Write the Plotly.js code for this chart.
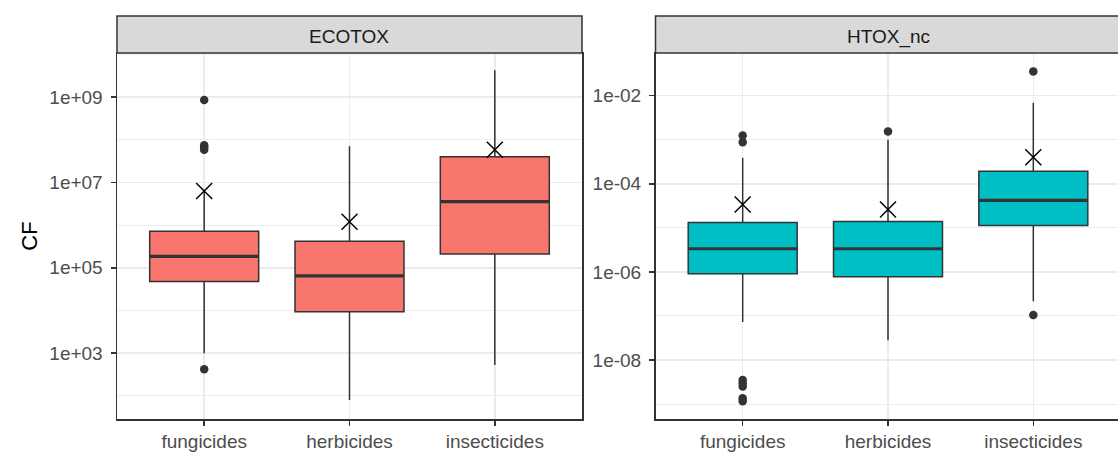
<!DOCTYPE html>
<html>
<head>
<meta charset="utf-8">
<script src="https://cdn.plot.ly/plotly-3.0.1.min.js"></script>
<style>
html, body { margin: 0; padding: 0; overflow: hidden; background: #fff; }
#chart { width: 1122px; height: 452px; }
</style>
</head>
<body>
<div id="chart"></div>
<script>
// ---- data ----
var categories = ['fungicides', 'herbicides', 'insecticides'];

// ECOTOX panel
var ecoQ1     = [4.8e4, 9.3e3, 2.1e5];
var ecoMedian = [1.86e5, 6.5e4, 3.55e6];
var ecoQ3     = [7.2e5, 4.2e5, 4.0e7];
var ecoLower  = [1.0e3, 80, 530];
var ecoUpper  = [6.7e6, 7.0e7, 4.2e9];
var ecoMean   = [6.3e6, 1.2e6, 5.8e7];
var ecoOutCat = ['fungicides', 'fungicides', 'fungicides', 'fungicides', 'fungicides'];
var ecoOutVal = [8.5e8, 7.4e7, 6.6e7, 5.8e7, 4.2e2];

// HTOX_nc panel
var htoxQ1     = [9.1e-7, 7.8e-7, 1.13e-5];
var htoxMedian = [3.35e-6, 3.35e-6, 4.2e-5];
var htoxQ3     = [1.33e-5, 1.4e-5, 1.93e-4];
var htoxLower  = [7.3e-8, 2.8e-8, 2.16e-7];
var htoxUpper  = [3.9e-4, 1.0e-3, 6.9e-3];
var htoxMean   = [3.4e-5, 2.6e-5, 4.0e-4];
var htoxOutCat = ['fungicides', 'fungicides', 'fungicides', 'fungicides', 'fungicides', 'fungicides', 'fungicides',
                  'herbicides', 'insecticides', 'insecticides'];
var htoxOutVal = [1.25e-3, 8.8e-4, 3.5e-9, 2.95e-9, 2.5e-9, 1.35e-9, 1.15e-9,
                  1.55e-3, 3.57e-2, 1.05e-7];

// tick labels
var ecoTickVals  = [1e3, 1e5, 1e7, 1e9];
var ecoTickText  = ['1e+03', '1e+05', '1e+07', '1e+09'];
var ecoMinorVals = [1e2, 1e4, 1e6, 1e8, 1e10];
var htoxTickVals  = [1e-8, 1e-6, 1e-4, 1e-2];
var htoxTickText  = ['1e-08', '1e-06', '1e-04', '1e-02'];
var htoxMinorVals = [1e-9, 1e-7, 1e-5, 1e-3];

var panelTitles = ['ECOTOX', 'HTOX_nc'];
var fillColors = ['#F8766D', '#00BFC4'];

// ---- styling ----
var W = 1122, H = 452;
var FONT = 'Liberation Sans, Arial, sans-serif';
var DARK = '#333333';
var GRID = '#EBEBEB';
var BOXW = 0.75;

function idx(c) { return categories.indexOf(c) + 1; }
var catPos = categories.map(idx);

function panel(q1, med, q3, lo, hi, mean, outCat, outVal, xa, ya, fill) {
  var traces = [];
  traces.push({
    type: 'box', x: catPos, q1: q1, median: med, q3: q3,
    lowerfence: lo, upperfence: hi,
    boxpoints: false, width: BOXW, whiskerwidth: 0,
    fillcolor: fill, line: {color: DARK, width: 1.5},
    xaxis: xa, yaxis: ya, showlegend: false, hoverinfo: 'skip'
  });
  // thicker median line (ggplot fatten)
  var mx = [], my = [];
  catPos.forEach(function (p, i) {
    mx.push(p - BOXW / 2, p + BOXW / 2, null);
    my.push(med[i], med[i], null);
  });
  traces.push({
    type: 'scatter', mode: 'lines', x: mx, y: my,
    line: {color: DARK, width: 3.2}, xaxis: xa, yaxis: ya,
    showlegend: false, hoverinfo: 'skip'
  });
  traces.push({
    type: 'scatter', mode: 'markers', x: outCat.map(idx), y: outVal,
    marker: {color: DARK, size: 8.5, symbol: 'circle'},
    xaxis: xa, yaxis: ya, showlegend: false, hoverinfo: 'skip'
  });
  traces.push({
    type: 'scatter', mode: 'markers', x: catPos, y: mean,
    marker: {symbol: 'x-thin-open', size: 16, color: '#000', line: {color: '#000', width: 1.5}},
    xaxis: xa, yaxis: ya, showlegend: false, hoverinfo: 'skip'
  });
  return traces;
}

var data = [].concat(
  panel(ecoQ1, ecoMedian, ecoQ3, ecoLower, ecoUpper, ecoMean, ecoOutCat, ecoOutVal, 'x', 'y', fillColors[0]),
  panel(htoxQ1, htoxMedian, htoxQ3, htoxLower, htoxUpper, htoxMean, htoxOutCat, htoxOutVal, 'x2', 'y2', fillColors[1])
);

var xd1 = [117 / W, 582 / W];
var xd2 = [655.5 / W, 1120.5 / W];
var yd = [1 - 419 / H, 1 - 53 / H];
var stripTop = 1 - 16 / H;

function xaxis(domain, anchor) {
  return {
    domain: domain, anchor: anchor, type: 'linear', range: [0.4, 3.6],
    tickmode: 'array', tickvals: catPos, ticktext: categories,
    ticks: 'outside', ticklen: 5, tickwidth: 1.5, tickcolor: DARK,
    showgrid: true, gridcolor: GRID, gridwidth: 1.5, zeroline: false,
    showline: true, mirror: true, linecolor: DARK, linewidth: 1.5,
    tickfont: {family: FONT, size: 19, color: '#4D4D4D'}, fixedrange: true
  };
}
function yaxis(range, tv, tt, minor, anchor, titleText) {
  var a = {
    anchor: anchor, domain: yd, type: 'log', range: range,
    tickmode: 'array', tickvals: tv, ticktext: tt,
    ticks: 'outside', ticklen: 5, tickwidth: 1.5, tickcolor: DARK,
    showgrid: true, gridcolor: GRID, gridwidth: 1.5, zeroline: false,
    minor: {tickmode: 'array', tickvals: minor, showgrid: true, gridcolor: GRID, gridwidth: 0.9, ticks: ''},
    showline: true, mirror: true, linecolor: DARK, linewidth: 1.5,
    tickfont: {family: FONT, size: 19, color: '#4D4D4D'},
    ticklabelstandoff: 4, fixedrange: true
  };
  if (titleText) {
    a.title = {text: titleText, font: {family: FONT, size: 22, color: '#000'}, standoff: 5};
  }
  return a;
}

var layout = {
  width: W, height: H,
  margin: {l: 0, r: 0, t: 0, b: 0, pad: 0},
  paper_bgcolor: '#fff', plot_bgcolor: '#fff',
  showlegend: false,
  xaxis: xaxis(xd1, 'y'),
  yaxis: yaxis([1.46, 10.03], ecoTickVals, ecoTickText, ecoMinorVals, 'x', 'CF'),
  xaxis2: xaxis(xd2, 'y2'),
  yaxis2: yaxis([-9.34, -1.03], htoxTickVals, htoxTickText, htoxMinorVals, 'x2', null),
  shapes: [xd1, xd2].map(function (d) {
    return {type: 'rect', xref: 'paper', yref: 'paper', x0: d[0], x1: d[1], y0: yd[1], y1: stripTop,
            fillcolor: '#D9D9D9', line: {color: DARK, width: 1.5}, layer: 'above'};
  }),
  annotations: [xd1, xd2].map(function (d, i) {
    return {xref: 'paper', yref: 'paper', x: (d[0] + d[1]) / 2, y: 1 - 37 / H,
            xanchor: 'center', yanchor: 'middle', showarrow: false, text: panelTitles[i],
            font: {family: FONT, size: 19, color: '#1A1A1A'}};
  })
};

Plotly.newPlot('chart', data, layout, {staticPlot: true, displayModeBar: false});
</script>
</body>
</html>
